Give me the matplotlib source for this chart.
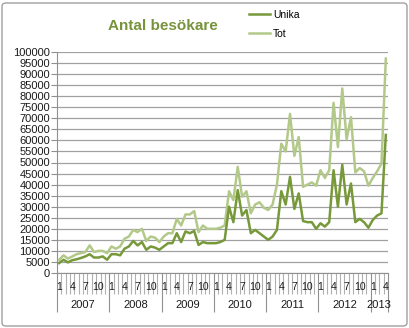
import numpy as np
import matplotlib
matplotlib.use('Agg')
import matplotlib.pyplot as plt
from matplotlib.patches import FancyBboxPatch
import matplotlib.transforms as mtransforms

# monthly values, Jan 2007 - Apr 2013
years = ['2007', '2008', '2009', '2010', '2011', '2012', '2013']
months_per_year = [12, 12, 12, 12, 12, 12, 4]

unika = [4500, 6000, 4800, 5800, 6200, 6800, 7500, 8500, 7000, 7000, 7500, 6000,
         8500, 8500, 8000, 11000, 12000, 14500, 12500, 14000, 10500, 12000, 11500, 10500,
         12000, 13500, 13500, 18000, 14000, 18800, 18000, 19000, 12700, 14000, 13500, 13500,
         13500, 14000, 15000, 30000, 23000, 37500, 26000, 28500, 18000, 19500, 18000, 16500,
         15000, 16500, 19500, 37000, 31000, 43500, 29000, 36000, 23500, 23000, 23000, 20000,
         22500, 21000, 23000, 46500, 30000, 49000, 31000, 40500, 23000, 24500, 23000, 20500,
         24000, 26000, 27000, 62500]
tot = [6000, 8000, 6500, 7500, 8500, 9000, 9500, 12500, 9500, 10000, 10000, 9000,
       12000, 11000, 12000, 15500, 16500, 19500, 18500, 20000, 14500, 16500, 16000, 14000,
       16500, 18000, 18000, 24500, 21500, 26500, 26500, 28000, 18500, 21500, 20000, 20000,
       20000, 20500, 21500, 37000, 33000, 48000, 34500, 37000, 27000, 31000, 32000, 29500,
       28500, 31000, 40000, 58500, 55000, 72000, 53000, 61500, 39000, 40000, 41000, 39500,
       46500, 43000, 46500, 77000, 57000, 83500, 60500, 70500, 45500, 47500, 46000, 39500,
       43000, 46000, 49500, 97000]
month_labels = ['1', '4', '7', '10']

plt.rcParams['font.family'] = ['Liberation Sans', 'DejaVu Sans']

W, H = 410, 328
fig = plt.figure(figsize=(W / 100, H / 100), dpi=100)

# chart border
fig.patches.append(FancyBboxPatch((2 / W, 2 / H), 405 / W, 323 / H,
                                  boxstyle='round,pad=0,rounding_size=0.01',
                                  transform=fig.transFigure, fill=False,
                                  edgecolor='#a0a0a0', linewidth=1.0))

ax = fig.add_axes([57 / W, (H - 273) / H, (388 - 57) / W, (273 - 52) / H])

x = np.arange(len(unika))
ax.plot(x, tot, color='#b3c98a', linewidth=1.8, label='Tot', zorder=3)
ax.plot(x, unika, color='#77993a', linewidth=1.8, label='Unika', zorder=4)

ax.set_xlim(-0.5, len(unika) - 0.5)
ax.set_ylim(0, 100000)
ax.set_yticks(np.arange(0, 100001, 5000))
ax.yaxis.grid(True, color='#a0a0a0', linewidth=0.9)
ax.set_axisbelow(True)
ax.tick_params(axis='y', length=4, color='#909090', labelsize=8, pad=1,
               labelcolor='#1a1a1a')

for s in ['top', 'right']:
    ax.spines[s].set_visible(False)
ax.spines['left'].set_color('#909090')
ax.spines['bottom'].set_color('#909090')

# category axis: month separators (minor) and year separators (major)
bounds = np.cumsum([0] + months_per_year) - 0.5
ax.set_xticks(bounds)
ax.set_xticklabels([])
ax.set_xticks(np.arange(len(unika) + 1) - 0.5, minor=True)
ax.tick_params(axis='x', which='major', length=28, color='#909090', width=0.8)
ax.tick_params(axis='x', which='minor', length=15, color='#b0b0b0', width=0.8)

trans = mtransforms.blended_transform_factory(ax.transData, ax.transAxes)
i = 0
for yr, n in zip(years, months_per_year):
    for m in range(0, n, 3):
        ax.text(i + m, -14 / 221, month_labels[m // 3], transform=trans,
                ha='center', va='center', fontsize=7.5, color='#1a1a1a')
    ax.text(i + (n - 1) / 2, -32 / 221, yr, transform=trans,
            ha='center', va='center', fontsize=8, color='#1a1a1a')
    i += n

fig.text(163 / W, 1 - 26 / H, 'Antal besökare', ha='center', va='center',
         fontsize=11, fontweight='bold', color='#77933c')

handles, labels = ax.get_legend_handles_labels()
ax.legend(handles[::-1], labels[::-1], loc='upper left',
          bbox_to_anchor=(249 / W, 1 - 10 / H), bbox_transform=fig.transFigure,
          frameon=False, fontsize=7.5, handlelength=2.0, handletextpad=0.3,
          labelspacing=0.85, borderpad=0, borderaxespad=0)

fig.savefig('out.png', dpi=100)
